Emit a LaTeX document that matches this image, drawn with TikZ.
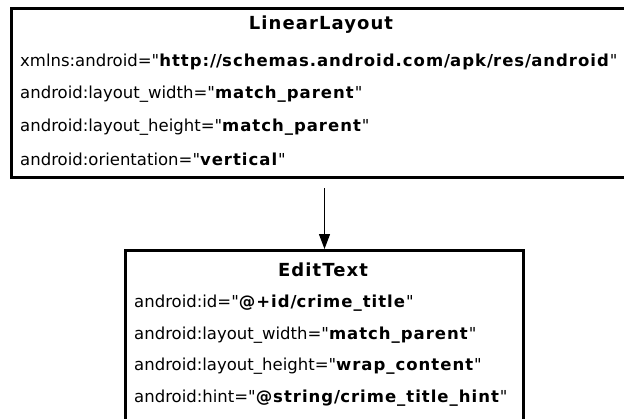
\documentclass[tikz,border=0pt]{standalone}
\usepackage{fontspec}
\newfontfamily\viewfont{DejaVu Sans}[BoldFeatures={LetterSpace=6}]
\usepackage{tikz}
\usetikzlibrary{arrows.meta,calc}

\tikzset{
  viewbox/.style={draw=black,line width=3pt,fill=white,anchor=north west,inner sep=0pt},
  boxtitle/.style={font=\viewfont\fontsize{18}{20}\selectfont\bfseries,inner sep=0pt},
  attrline/.style={font=\viewfont\fontsize{16.5}{18}\selectfont,anchor=west,inner sep=0pt},
}

\begin{document}
\begin{tikzpicture}[x=1pt,y=-1pt]
  \useasboundingbox (0,0) rectangle (624,418);
  % parent layout
  \node[viewbox,minimum width=616pt,minimum height=169pt] (linear) at (10,7) {};
  \node[boxtitle] (lintitle) at (321,25) {LinearLayout};
  \foreach \k/\attr/\val in {1/xmlns:android/http:\slash\slash schemas.android.com\slash apk\slash res\slash android,
                             2/android:layout\_width/match\_parent,
                             3/android:layout\_height/match\_parent,
                             4/android:orientation/vertical}{
    \node[attrline] (lin\k) at (20,{62+32.6*(\k-1)}) {\attr="\textbf{\val}"};
  }
  % child widget
  \node[viewbox,minimum width=398pt,minimum height=180pt] (edit) at (124,249) {};
  \node[boxtitle] (edittitle) at (323,270) {EditText};
  \foreach \k/\attr/\val in {1/android:id/@+id\slash crime\_title,
                             2/android:layout\_width/match\_parent,
                             3/android:layout\_height/wrap\_content,
                             4/android:hint/@string\slash crime\_title\_hint}{
    \node[attrline] (edit\k) at (134,{303+31.7*(\k-1)}) {\attr="\textbf{\val}"};
  }
  \draw[-{Triangle[length=15pt,width=11pt]},line width=1.3pt,shorten <=9pt]
    (edit.north |- linear.south) -- (edit.north);
\end{tikzpicture}
\end{document}
